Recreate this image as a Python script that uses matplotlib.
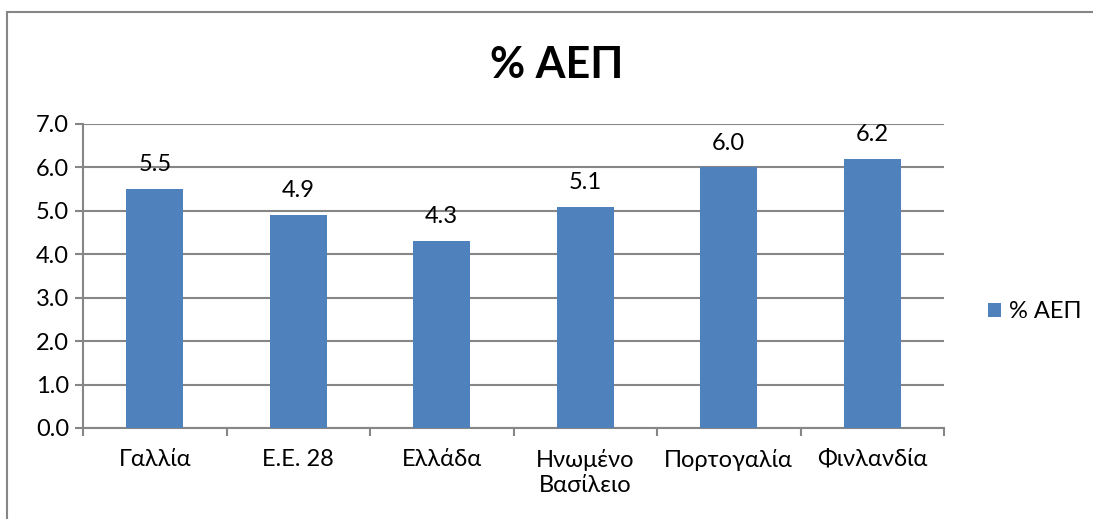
import matplotlib.pyplot as plt
from matplotlib.patches import Rectangle
import numpy as np

plt.rcParams['font.family'] = ['Lato', 'DejaVu Sans']

# data
countries = ["Γαλλία", "Ε.Ε. 28", "Ελλάδα", "Ηνωμένο\nΒασίλειο", "Πορτογαλία", "Φινλανδία"]
gdp_pct = [5.5, 4.9, 4.3, 5.1, 6.0, 6.2]
series_name = "% ΑΕΠ"
yticks = [0, 1, 2, 3, 4, 5, 6, 7]

bar_color = "#4F81BD"
grid_color = "#868686"

fig = plt.figure(figsize=(10.93, 5.19), dpi=100)
ax = fig.add_axes([83 / 1093, 1 - 428 / 519, (944 - 83) / 1093, (428 - 124) / 519])

x = np.arange(len(countries))
bars = ax.bar(x, gdp_pct, width=0.4, color=bar_color, label=series_name, zorder=3)

for xi, v in zip(x, gdp_pct):
    ax.annotate(f"{v:.1f}", (xi, v), xytext=(0, 10), textcoords="offset points",
                ha="center", va="bottom", fontsize=17)

ax.set_xlim(-0.5, len(countries) - 0.5)
ax.set_ylim(0, 7)
ax.set_yticks(yticks)
ax.set_yticklabels([f"{t:.1f}" for t in yticks], fontsize=17)
ax.yaxis.grid(True, color=grid_color, linewidth=1.5, zorder=0)
ax.tick_params(axis="y", length=6, width=1.5, color=grid_color, pad=4)

# category labels, tick marks between categories
ax.set_xticks(x)
ax.set_xticklabels(countries, fontsize=17, va="top", linespacing=1.25)
ax.tick_params(axis="x", length=0, pad=15)
ax.set_xticks(np.arange(len(countries) + 1) - 0.5, minor=True)
ax.tick_params(axis="x", which="minor", length=6, width=1.5, color=grid_color)

for s in ["top", "right"]:
    ax.spines[s].set_visible(False)
for s in ["left", "bottom"]:
    ax.spines[s].set_color(grid_color)
    ax.spines[s].set_linewidth(1.5)

fig.text(557 / 1093, 1 - 65 / 519, series_name, ha="center", va="center",
         fontsize=31, fontweight="bold")

leg = fig.legend(handles=[bars], loc="center left", bbox_to_anchor=(988 / 1093, 1 - 312 / 519),
                 frameon=False, fontsize=17, handlelength=0.55, handleheight=0.55,
                 handletextpad=0.35, borderpad=0, borderaxespad=0)

# chart border (cut at right and bottom)
fig.patches.append(Rectangle((7 / 1093, -0.1), 1.2, 1.1 - 12 / 519, transform=fig.transFigure,
                             fill=False, edgecolor=grid_color, linewidth=1.5))

fig.savefig("out.png", dpi=100)
